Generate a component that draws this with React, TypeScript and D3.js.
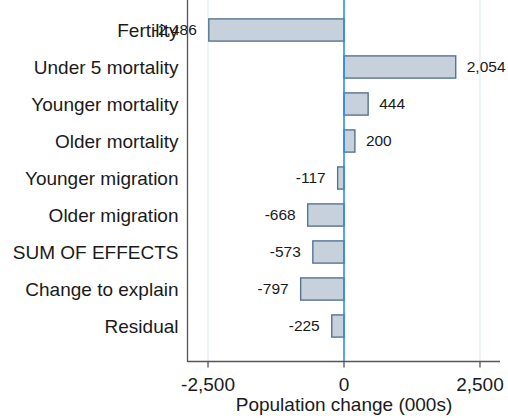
import React from "react";
import * as d3 from "d3";

const categories = [
  "Fertility",
  "Under 5 mortality",
  "Younger mortality",
  "Older mortality",
  "Younger migration",
  "Older migration",
  "SUM OF EFFECTS",
  "Change to explain",
  "Residual",
];
const values = [-2486, 2054, 444, 200, -117, -668, -573, -797, -225];
const xTicks = [-2500, 0, 2500];
const xTitle = "Population change (000s)";

const W = 508;
const H = 418;
const plotLeft = 187.5;
const plotRight = 500;
const plotTop = 0;
const plotBottom = 361.5;
const FONT = "'Liberation Sans', Arial, Helvetica, sans-serif";

const fmt = (v: number) => d3.format(",")(v).replace("\u2212", "-");

export default function App() {
  const x = d3.scaleLinear().domain([-2868, 2868]).range([plotLeft + 0.5, plotRight]);
  const y = d3
    .scaleBand<string>()
    .domain(categories)
    .range([11.5, 344.5])
    .paddingInner(0.4)
    .paddingOuter(0.2);
  const bw = y.bandwidth();

  return (
    <svg
      width={W}
      height={H}
      style={{ position: "absolute", left: 0, top: 0, display: "block", background: "#fff" }}
      fontFamily={FONT}
    >
      {/* gridlines */}
      {xTicks
        .filter((t) => t !== 0)
        .map((t) => (
          <line key={"g" + t} x1={x(t)} x2={x(t)} y1={plotTop} y2={plotBottom} stroke="#e8eff6" strokeWidth={1.5} />
        ))}
      {/* bars */}
      {categories.map((c, i) => {
        const v = values[i];
        const x0 = x(Math.min(0, v));
        const x1 = x(Math.max(0, v));
        return (
          <rect
            key={c}
            x={x0}
            y={y(c)!}
            width={x1 - x0}
            height={bw}
            fill="#c7d1db"
            stroke="#567390"
            strokeWidth={1.4}
          />
        );
      })}
      {/* zero line */}
      <line x1={x(0)} x2={x(0)} y1={plotTop} y2={plotBottom} stroke="#2a8cf2" strokeWidth={1.6} />
      {/* value labels */}
      {categories.map((c, i) => {
        const v = values[i];
        const pos = v >= 0;
        return (
          <text
            key={"v" + c}
            x={x(v) + (pos ? 11 : -12)}
            y={y(c)! + bw / 2}
            dy="0.35em"
            textAnchor={pos ? "start" : "end"}
            fontSize={15.5}
            fill="#1a1a1a"
          >
            {fmt(v)}
          </text>
        );
      })}
      {/* category labels */}
      {categories.map((c) => (
        <text
          key={"c" + c}
          x={plotLeft - 9}
          y={y(c)! + bw / 2}
          dy="0.35em"
          textAnchor="end"
          fontSize={19}
          fill="#1a1a1a"
        >
          {c}
        </text>
      ))}
      {/* axes */}
      <line x1={plotLeft} x2={plotLeft} y1={plotTop} y2={plotBottom + 0.5} stroke="#555" strokeWidth={1.3} />
      <line x1={plotLeft} x2={plotRight} y1={plotBottom} y2={plotBottom} stroke="#555" strokeWidth={1.3} />
      {xTicks.map((t) => (
        <g key={"t" + t}>
          <line x1={x(t)} x2={x(t)} y1={plotBottom} y2={plotBottom + 6} stroke="#555" strokeWidth={1.3} />
          <text x={x(t)} y={391} textAnchor="middle" fontSize={19} fill="#1a1a1a">
            {fmt(t)}
          </text>
        </g>
      ))}
      <text x={x(0)} y={411} textAnchor="middle" fontSize={19} fill="#1a1a1a">
        {xTitle}
      </text>
    </svg>
  );
}
